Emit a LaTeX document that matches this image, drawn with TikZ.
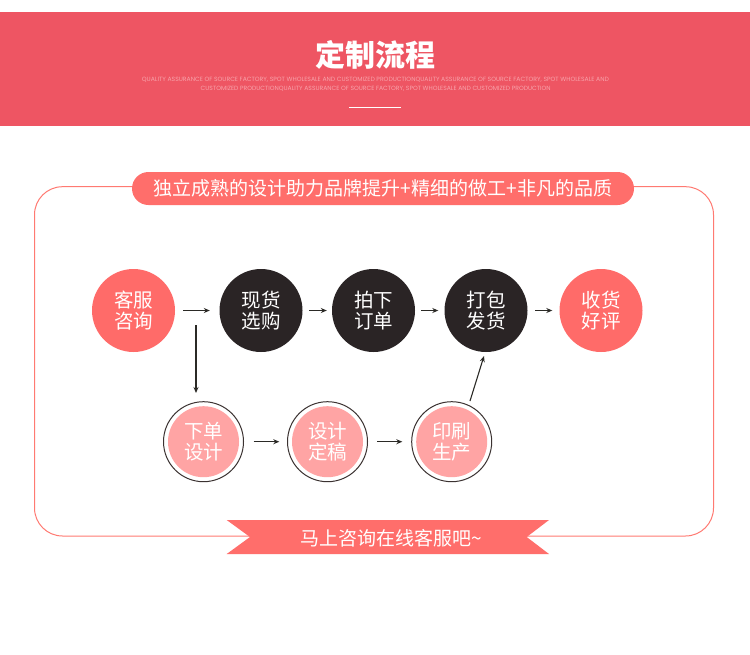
\documentclass[tikz,border=0pt]{standalone}
\usepackage{fontspec}
\usetikzlibrary{arrows.meta}
\newfontfamily\cjk{Noto Sans CJK SC}
\newfontfamily\latin{Poppins}
\definecolor{headc}{HTML}{EE5563}
\definecolor{subc}{HTML}{F8A2AA}
\definecolor{framec}{HTML}{FF7A72}
\definecolor{pillc}{HTML}{FF6E6B}
\definecolor{coralc}{HTML}{FF6B69}
\definecolor{darkc}{HTML}{2A2425}
\definecolor{pinkc}{HTML}{FFA4A4}
\definecolor{ringc}{HTML}{3B3231}
\definecolor{arrowc}{HTML}{2B2A26}
\begin{document}
\begin{tikzpicture}[x=1pt,y=-1pt,
  arr/.style={draw=arrowc, line width=1.1pt, -{Stealth[length=6pt,width=5pt]}},
  circtext/.style={circle, inner sep=0pt, text=white, align=center, font=\cjk\fontsize{19.5}{21}\selectfont},
  bigc/.style={circtext, minimum size=83pt},
  smallc/.style={circtext, fill=pinkc, minimum size=71pt},
  ring/.style={draw=ringc, line width=1pt}]
\useasboundingbox (0,0) rectangle (750,654);
\fill[white] (0,0) rectangle (750,654);
% header
\fill[headc] (0,12) rectangle (750,126);
\node[font=\cjk\bfseries\fontsize{30}{30}\selectfont, text=white, inner sep=0pt] (title) at (375,55) {定制流程};
\node[text=subc, inner sep=0pt, font=\latin\fontsize{5}{6}\selectfont] (sub1) at (375.4,80)
  {\resizebox{467pt}{!}{QUALITY ASSURANCE OF SOURCE FACTORY, SPOT WHOLESALE AND CUSTOMIZED PRODUCTIONQUALITY ASSURANCE OF SOURCE FACTORY, SPOT WHOLESALE AND}};
\node[text=subc, inner sep=0pt, font=\latin\fontsize{5}{6}\selectfont] (sub2) at (375.7,88.7)
  {\resizebox{350pt}{!}{CUSTOMIZED PRODUCTIONQUALITY ASSURANCE OF SOURCE FACTORY, SPOT WHOLESALE AND CUSTOMIZED PRODUCTION}};
\draw[white, line width=1pt] (349,107.3) -- (400.7,107.3);
% frame
\draw[framec, line width=1pt, rounded corners=28pt] (34.5,186.7) rectangle (713.5,536);
% top pill
\node[fill=pillc, rounded corners=16.5pt, minimum width=502pt, minimum height=33pt, inner sep=0pt,
  text=white, font=\cjk\fontsize{19}{19}\selectfont] (pill) at (383,188.5) {独立成熟的设计助力品牌提升+精细的做工+非凡的品质};
% bottom ribbon
\fill[pillc] (226.7,520) -- (549,520) -- (526.7,537) -- (549,554) -- (226.7,554) -- (250,537) -- cycle;
\node[text=white, inner sep=0pt, font=\cjk\fontsize{19}{19}\selectfont] (rib) at (391,538) {马上咨询在线客服吧\textasciitilde};
% row 1
\node[bigc, fill=coralc] (c1) at (133.5,310.5) {客服\\咨询};
\node[bigc, fill=darkc] (c2) at (261,310.5) {现货\\选购};
\node[bigc, fill=darkc] (c3) at (373.5,310.5) {拍下\\订单};
\node[bigc, fill=darkc] (c4) at (486,310.5) {打包\\发货};
\node[bigc, fill=coralc] (c5) at (601,310.5) {收货\\好评};
% row 2
\node[smallc] (c6) at (203.5,441.7) {下单\\设计};
\node[smallc] (c7) at (327.5,441.7) {设计\\定稿};
\node[smallc] (c8) at (451.7,441.7) {印刷\\生产};
\draw[ring] (c6.center) circle[radius=40];
\draw[ring] (c7.center) circle[radius=40];
\draw[ring] (c8.center) circle[radius=40];
% arrows
\draw[arr, shorten <=8pt, shorten >=9.5pt] (c1.east) -- (c2.west);
\draw[arr, shorten <=6.3pt, shorten >=5pt] (c2.east) -- (c3.west);
\draw[arr, shorten <=6pt, shorten >=6pt] (c3.east) -- (c4.west);
\draw[arr, shorten <=7.5pt, shorten >=7pt] (c4.east) -- (c5.west);
\draw[arr, shorten <=14.5pt, shorten >=12.5pt] (c6.east) -- (c7.west);
\draw[arr, shorten <=14pt, shorten >=13.7pt] (c7.east) -- (c8.west);
\coordinate (v1) at (196,325);
\coordinate (v2) at (196,393);
\draw[arr] (v1) -- (v2);
\coordinate (d1) at (470,401);
\coordinate (d2) at (484,356);
\draw[arr] (d1) -- (d2);
\end{tikzpicture}
\end{document}
